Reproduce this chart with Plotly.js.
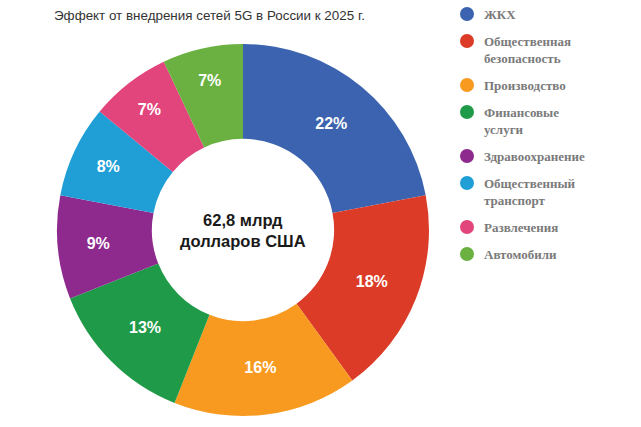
<!DOCTYPE html>
<html><head><meta charset="utf-8">
<script src="https://cdn.plot.ly/plotly-3.0.1.min.js"></script>
<style>html,body{margin:0;padding:0;background:#fff}#chart{width:641px;height:427px}</style>
</head><body><div id="chart"></div>
<script>
const categories = ["ЖКХ","Общественная<br>безопасность","Производство","Финансовые<br>услуги","Здравоохранение","Общественный<br>транспорт","Развлечения","Автомобили"];
const shares = [22,18,16,13,9,8,7,7];
const colors = ["#3c63b0","#dc3b27","#f89a1f","#1f9a48","#8e2a8e","#1f9fd6","#e2457c","#6ab141"];
const chartTitle = "Эффект от внедрения сетей 5G в России к 2025 г.";
const centerText = "62,8 млрд<br>долларов США";

const W = 641, H = 427;
const cx = 243, cy = 230, R = 186;

const pie = {
  type: "pie",
  labels: categories,
  values: shares,
  marker: {colors: colors, line: {width: 0}},
  sort: false,
  direction: "clockwise",
  rotation: 0,
  hole: 0.49,
  textinfo: "none",
  texttemplate: "%{value}%",
  textposition: "inside",
  insidetextorientation: "horizontal",
  textfont: {family: "Liberation Sans, Arial, sans-serif", size: 16, color: "#ffffff", weight: "bold"},
  showlegend: false,
  hoverinfo: "label+percent",
  domain: {x: [(cx - R) / W, (cx + R) / W], y: [(H - cy - R) / H, (H - cy + R) / H]}
};

const annotations = [
  {text: chartTitle, xref: "paper", yref: "paper", x: 52 / W, y: 1 - 15 / H, xanchor: "left", yanchor: "middle",
   showarrow: false, font: {family: "Liberation Sans, Arial, sans-serif", size: 13.4, color: "#333333"}},
  {text: "<b>" + centerText + "</b>", xref: "paper", yref: "paper", x: cx / W, y: 1 - cy / H, xanchor: "center", yanchor: "middle",
   showarrow: false, font: {family: "Liberation Sans, Arial, sans-serif", size: 16.5, color: "#1a1a1a"}}
];
const shapes = [];
let ly = 14;
const lineH = 17, pitch = 27;
categories.forEach((c, i) => {
  const lines = c.split("<br>").length;
  shapes.push({type: "circle", xref: "paper", yref: "paper",
    x0: (467 - 7) / W, x1: (467 + 7) / W, y0: 1 - (ly + 7) / H, y1: 1 - (ly - 7) / H,
    fillcolor: colors[i], line: {width: 0}});
  annotations.push({text: "<b>" + c + "</b>", xref: "paper", yref: "paper", x: 482 / W, y: 1 - (ly - 9) / H,
    xanchor: "left", yanchor: "top", align: "left", showarrow: false,
    font: {family: "Liberation Serif, Times New Roman, serif", size: 13, color: "#7a7a7a"}});
  ly += pitch + lineH * (lines - 1);
});

Plotly.newPlot("chart", [pie], {
  width: W, height: H,
  margin: {l: 0, r: 0, t: 0, b: 0},
  paper_bgcolor: "#ffffff",
  showlegend: false,
  annotations: annotations,
  shapes: shapes
}, {displayModeBar: false, staticPlot: true});
</script></body></html>
